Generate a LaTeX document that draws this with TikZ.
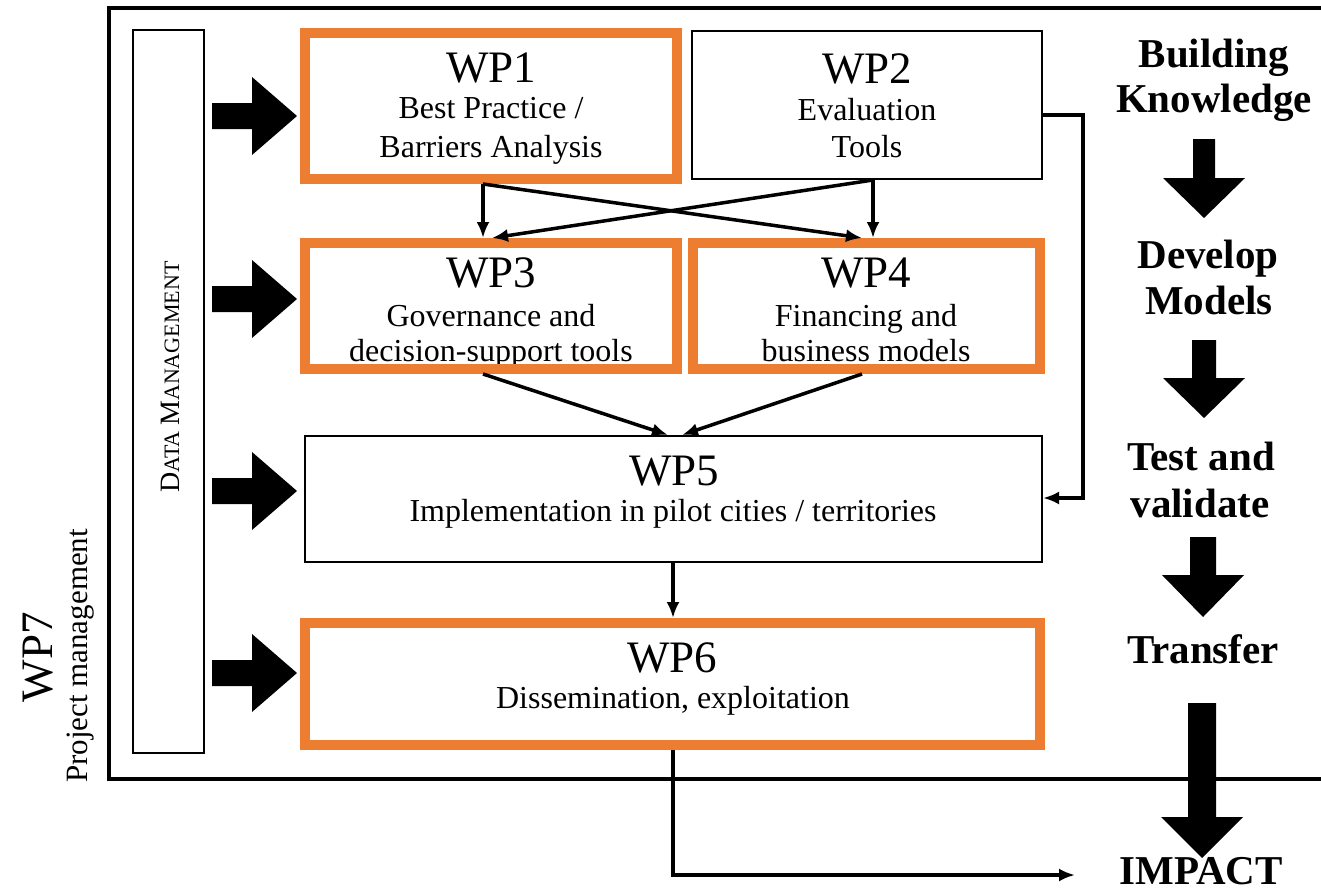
\documentclass[tikz,border=0pt]{standalone}
\usepackage{fontspec}
\setmainfont{Liberation Serif}
\usetikzlibrary{arrows.meta}
\definecolor{hl}{HTML}{ED7D31}
\newcommand\dnblk[6]{% cx, top, base, tip, shaft half width, head half width
  \fill (#1-#5,#2) -- (#1+#5,#2) -- (#1+#5,#3) -- (#1+#6,#3) -- (#1,#4) -- (#1-#6,#3) -- (#1-#5,#3) -- cycle;}
\begin{document}
\begin{tikzpicture}[x=1pt,y=-1pt,
  big/.style={anchor=base,font=\fontsize{45}{45}\selectfont,inner sep=0},
  body/.style={anchor=base,font=\fontsize{32}{32}\selectfont,inner sep=0},
  stage/.style={anchor=base,font=\fontsize{41}{41}\selectfont\bfseries,inner sep=0},
  hlbox/.style={draw=hl,line width=10pt,inner sep=0,rectangle},
  plainbox/.style={draw=black,line width=2pt,inner sep=0,rectangle},
  conn/.style={line width=3.5pt,-{Latex[length=16pt,width=13pt]}},
  rblock/.pic={\fill (0,-13) -- (40,-13) -- (40,-39) -- (85,0) -- (40,39) -- (40,13) -- (0,13) -- cycle;}
]
\useasboundingbox (0,0) rectangle (1321,891);
\fill[white] (0,0) rectangle (1321,891);

% outer frame (WP7)
\draw[line width=4.5pt] (1330,8) -- (109,8) -- (109,779) -- (1330,779);
\node[rotate=90,anchor=base,font=\fontsize{45}{45}\selectfont,inner sep=0] (wp7) at (52,657) {WP7};
\node[rotate=90,anchor=base,font=\fontsize{31}{31}\selectfont,inner sep=0] (pm) at (87,656) {Project management};

% data management
\node[plainbox,minimum width=71,minimum height=723] (dm) at (168.5,391.5) {};
\node[rotate=90,anchor=base,inner sep=0] (dmt) at (179,377)
  {\fontsize{28}{28}\selectfont D\fontsize{22}{22}\selectfont ATA \fontsize{28}{28}\selectfont M\fontsize{22}{22}\selectfont ANAGEMENT};

% left block arrows
\pic at (212,116) {rblock};
\pic at (212,299) {rblock};
\pic at (212,491) {rblock};
\pic at (212,673) {rblock};

% texts
\node[big] (t1a) at (491,82) {WP1};
\node[body] (t1b) at (491,118) {Best Practice /};
\node[body] (t1c) at (491,157) {Barriers Analysis};
\node[big] (t2a) at (867,83) {WP2};
\node[body] (t2b) at (867,120) {Evaluation};
\node[body] (t2c) at (867,157) {Tools};
\node[big] (t3a) at (491,287) {WP3};
\node[body] (t3b) at (491,326) {Governance and};
\node[body] (t3c) at (491,361) {decision-support tools};
\node[big] (t4a) at (866,287) {WP4};
\node[body] (t4b) at (866,326) {Financing and};
\node[body] (t4c) at (866,361) {business models};
\node[big] (t5a) at (674,485) {WP5};
\node[body] (t5b) at (673,521) {Implementation in pilot cities / territories};
\node[big] (t6a) at (672,672) {WP6};
\node[body] (t6b) at (673,708) {Dissemination, exploitation};

% boxes
\node[hlbox,minimum width=372,minimum height=146] (wp1) at (491,106) {};
\node[plainbox,minimum width=350,minimum height=148] (wp2) at (867,105) {};
\node[hlbox,minimum width=372,minimum height=126] (wp3) at (491,306) {};
\node[hlbox,minimum width=347,minimum height=126] (wp4) at (866.5,306) {};
\node[plainbox,minimum width=737,minimum height=126] (wp5) at (673.5,499) {};
\node[hlbox,minimum width=735,minimum height=122] (wp6) at (672.5,684) {};

% connectors
\coordinate (xa) at (483,0);
\coordinate (xb) at (873,0);
\coordinate (xc) at (862,0);
\coordinate (xd) at (492,0);
\coordinate (xe) at (668,0);
\coordinate (xf) at (682,0);
\coordinate (xg) at (673,0);
\coordinate (r1) at (1083,115);
\coordinate (y5) at (0,498);
\coordinate (imp) at (1075,875);
\draw[conn] (wp1.south -| xa) -- (wp3.north -| xa);
\draw[conn] (wp1.south -| xa) -- (wp4.north -| xc);
\draw[conn] (wp2.south -| xb) -- (wp4.north -| xb);
\draw[conn] (wp2.south -| xb) -- (wp3.north -| xd);
\draw[conn] (wp3.south -| xa) -- (wp5.north -| xe);
\draw[conn] (wp4.south -| xc) -- (wp5.north -| xf);
\draw[conn] (wp5.south -| xg) -- (wp6.north -| xg);
\draw[conn] (wp2.east |- r1) -- (r1) |- (wp5.east |- y5);
\draw[conn] (wp6.south -| xg) |- (imp);

% right column
\node[stage] (s1a) at (1214,67) {Building};
\node[stage] (s1b) at (1214,112) {Knowledge};
\dnblk{1204}{139}{178}{218}{11}{41}
\node[stage] (s2a) at (1208,268) {Develop};
\node[stage] (s2b) at (1209,314) {Models};
\dnblk{1204}{340}{378}{418}{12}{41}
\node[stage] (s3a) at (1201,470) {Test and};
\node[stage] (s3b) at (1200,517) {validate};
\dnblk{1203}{537}{575}{617}{13}{41}
\node[stage] (s4) at (1203,663) {Transfer};
\dnblk{1202}{703}{817}{858}{14}{41}
\node[stage] (s5) at (1201,884) {IMPACT};
\end{tikzpicture}
\end{document}
